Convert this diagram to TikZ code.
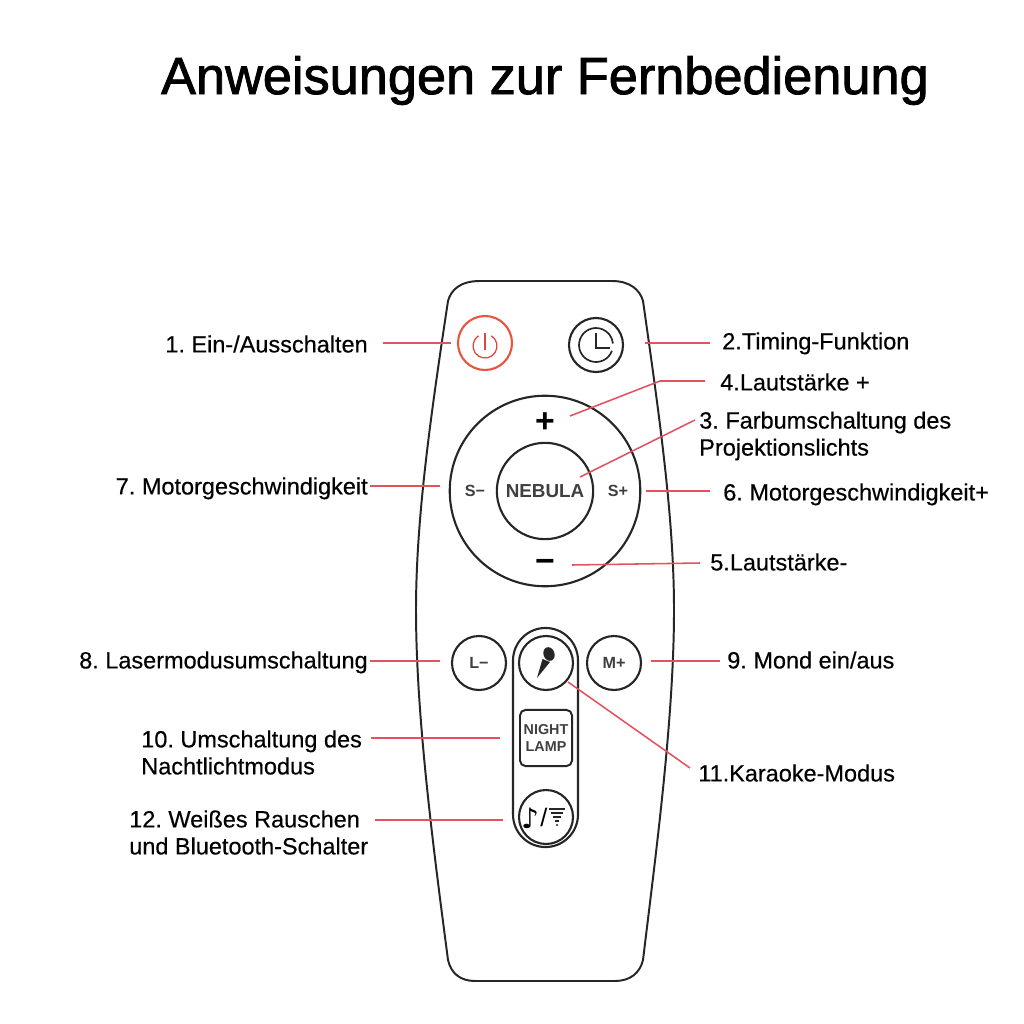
\documentclass[tikz,border=0pt]{standalone}
\usepackage{fontspec}
\setmainfont{Liberation Sans}
\newfontfamily\symfont{DejaVu Sans}
\newfontfamily\lblfont[FakeBold=0.4]{Liberation Sans}
\newfontfamily\titlefont[FakeBold=1.6]{Liberation Sans}
\definecolor{leadred}{HTML}{E5525F}
\definecolor{powerred}{HTML}{E8563F}
\frenchspacing
\begin{document}
\begin{tikzpicture}[x=0.025cm,y=-0.025cm,
  lbl/.style={inner sep=0pt,align=left,font=\lblfont\fontsize{16.7}{19.2}\selectfont,text height=13pt,text depth=1pt},
  btn/.style={draw=black!85,line width=1.5pt,circle,inner sep=0pt,minimum size=38.4pt},
  keytxt/.style={inner sep=0pt,text=black!75,font=\fontsize{11.5}{13}\selectfont\bfseries},
  callout/.style={draw=leadred,line width=1.1pt},
  body/.style={draw=black!85,line width=1.4pt,line join=round}]
\useasboundingbox (0,0) rectangle (1024,1024);
\fill[white] (0,0) rectangle (1024,1024);

\node[name=title, inner sep=0pt, text height=28pt, text depth=8pt, font=\titlefont\fontsize{37.2}{40}\selectfont] at (545,80) {Anweisungen zur Fernbedienung};

% remote
\draw[body] (480,281) -- (612,281)
  .. controls (630,281) and (640,290) .. (643,301)
  .. controls (660,420) and (674,520) .. (674,610)
  .. controls (674,720) and (655,860) .. (643,960)
  .. controls (640,973) and (630,981) .. (615,981)
  -- (475,981)
  .. controls (460,981) and (451,973) .. (448,960)
  .. controls (435,860) and (416,720) .. (416,610)
  .. controls (416,520) and (430,420) .. (448,301)
  .. controls (451,290) and (460,281) .. (480,281) -- cycle;

% top buttons
\node[btn, name=power, draw=powerred] at (485,343) {};
\coordinate (power_arc) at (485,346);
\draw[powerred!80!purple, line width=0.9pt] ([shift={(-58:12)}]power_arc) arc[start angle=-58, end angle=238, radius=12];
\draw[powerred!80!purple, line width=0.9pt] (485,333) -- (485,350);
\node[btn, name=timer] at (596,345) {};
\draw[black!85, line width=1.2pt] ([shift={(20:17)}]timer.center) arc[start angle=20, end angle=355, radius=17];
\draw[black!85, line width=1.5pt] (596,333) -- (596,348) -- (610,348);

% big ring
\node[btn, name=ring, minimum size=135.5pt] at (545,491) {};
\node[btn, name=nebula, minimum size=68.5pt, keytxt, text=black!75, font=\fontsize{13.4}{15}\selectfont\bfseries] at (545,491) {NEBULA};
\node[name=vol_up, inner sep=0pt, font=\fontsize{24}{24}\selectfont\bfseries] at (545,423) {+};
\node[name=vol_down, inner sep=0pt, font=\fontsize{24}{24}\selectfont\bfseries] at (545,566) {−};
\node[name=s_minus, keytxt] at (475,491) {S\textbf{−}};
\node[name=s_plus, keytxt] at (618,491) {S+};

% lower buttons
\node[name=capsule, draw=black!85, line width=1.5pt, rounded corners=32.5*0.7113pt, minimum width=46.2pt, minimum height=155.8pt, inner sep=0pt] at (545.5,737.5) {};
\node[btn, name=laser] at (479,663) {};
\node[keytxt, name=laser_txt] at (479,663) {L−};
\node[btn, name=mic] at (546,663) {};
\node[btn, name=moon] at (614,663) {};
\node[keytxt, name=moon_txt] at (614,663) {M+};
\node[name=lamp, draw=black!85, line width=1.4pt, rounded corners=4pt, minimum width=37pt, minimum height=40pt, inner sep=0pt, align=center, text=black!75, font=\fontsize{10.2}{11.5}\selectfont\bfseries] at (546,738) {NIGHT\\LAMP};
\node[btn, name=sound] at (546,817) {};

% microphone
\fill[black!85] (537,678) -- (542.5,659) -- (550,662) -- cycle;
\fill[black!85, rotate around={20:(549,654)}] (549,654) ellipse (5.5 and 7);

% note and funnel
\node[name=note, inner sep=0pt, font=\symfont\bfseries\fontsize{20}{20}\selectfont] at (530,818) {♪};
\node[name=slash, inner sep=0pt, font=\fontsize{18}{18}\selectfont] at (544,817) {/};
\foreach \yy/\ww in {809/8,813/6,817/4,821/2}
  \draw[black!85, line width=1pt] (557-\ww,\yy) -- (557+\ww,\yy);
\fill[black!85] (557,825) circle (1.2);

% labels
\node[lbl, name=lbl_1, anchor=east] at (368,344) {1. Ein-/Ausschalten};
\node[lbl, name=lbl_2, anchor=west] at (722,341) {2.Timing-Funktion};
\node[lbl, name=lbl_4, anchor=west] at (720,382) {4.Lautstärke +};
\node[lbl, name=lbl_3, anchor=west, text height=, text depth=] at (699,436) {3. Farbumschaltung des\\Projektionslichts};
\node[lbl, name=lbl_7, anchor=east] at (368,486) {7. Motorgeschwindigkeit};
\node[lbl, name=lbl_6, anchor=west] at (723,492) {6. Motorgeschwindigkeit+};
\node[lbl, name=lbl_5, anchor=west] at (710,562) {5.Lautstärke-};
\node[lbl, name=lbl_8, anchor=east] at (368,660) {8. Lasermodusumschaltung};
\node[lbl, name=lbl_9, anchor=west] at (727,660) {9. Mond ein/aus};
\node[lbl, name=lbl_10, anchor=west, text height=, text depth=] at (141,752.5) {10. Umschaltung des\\Nachtlichtmodus};
\node[lbl, name=lbl_11, anchor=west] at (698,773) {11.Karaoke-Modus};
\node[lbl, name=lbl_12, anchor=west, text height=, text depth=] at (129,832.5) {12. Weißes Rauschen\\und Bluetooth-Schalter};

% lead lines
\coordinate (start_1) at (383,343);  \coordinate (tip_1) at (451,343);
\coordinate (start_2) at (710,343);  \coordinate (tip_2) at (645,343);
\coordinate (start_4) at (705,381);  \coordinate (bend_4) at (660,381); \coordinate (tip_4) at (570,416);
\coordinate (start_3) at (695,420);  \coordinate (tip_3) at (580,477);
\coordinate (start_7) at (370,486);  \coordinate (tip_7) at (440,486);
\coordinate (start_6) at (710,491);  \coordinate (tip_6) at (646,491);
\coordinate (start_5) at (700,563);  \coordinate (tip_5) at (572,565);
\coordinate (start_8) at (370,661);  \coordinate (tip_8) at (440,661);
\coordinate (start_9) at (720,661);  \coordinate (tip_9) at (651,661);
\coordinate (start_10) at (371,738); \coordinate (tip_10) at (500,738);
\coordinate (start_11) at (690,768); \coordinate (tip_11) at (568,682);
\coordinate (start_12) at (375,820); \coordinate (tip_12) at (503,820);
\foreach \n in {1,2,3,5,6,7,8,9,10,11,12}
  \draw[callout] (start_\n) -- (tip_\n);
\draw[callout] (start_4) -- (bend_4) -- (tip_4);
\end{tikzpicture}
\end{document}
